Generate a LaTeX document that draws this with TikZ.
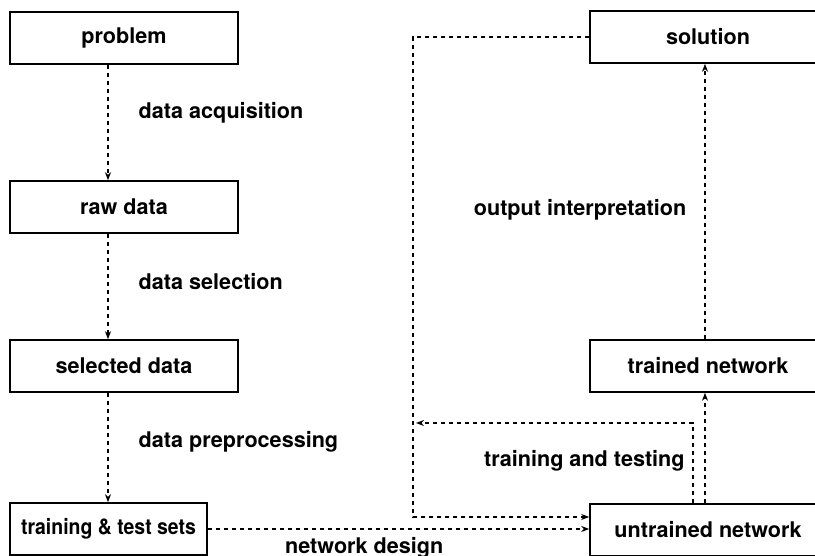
\documentclass[tikz,border=0pt]{standalone}
\usepackage{fontspec}
\setmainfont{TeX Gyre Heros}
\usetikzlibrary{arrows.meta}
\begin{document}
\begin{tikzpicture}[x=0.5pt,y=0.5pt,
	stage/.style={draw,line width=0.8pt,minimum height=26pt,inner sep=0pt,
		font=\fontsize{10.8}{13}\selectfont\bfseries},
	flow/.style={line width=0.7pt,dash pattern=on 2pt off 2pt,
		-{Stealth[length=4pt,width=3pt]}},
	lbl/.style={font=\fontsize{10.8}{13}\selectfont\bfseries,inner sep=0pt}]
	\useasboundingbox (0,0) rectangle (815,556);
	%\draw[lightgray] (0,0) grid[step=50] (815,556);
	\coordinate (ax) at (108,0);
	\coordinate (lx) at (413,0);
	\coordinate (tx) at (693,0);
	\coordinate (rx) at (705,0);
	% preparation steps
	\node[stage,minimum width=114pt] (problem) at (124,518) {problem};
	\node[stage,minimum width=114pt] (raw) at (124,349) {raw data};
	\node[stage,minimum width=114pt] (selected) at (124,190) {selected data};
	\node[stage,minimum width=98.5pt] (sets) at (108.5,27)
		{\addfontfeature{FakeStretch=0.9}training \& test sets};
	% network steps
	\node[stage,minimum width=118pt] (solution) at (708,519) {solution};
	\node[stage,minimum width=118pt] (trained) at (708,190) {trained network};
	\node[stage,minimum width=118pt] (untrained) at (708,26) {untrained network};
	\coordinate (uin) at ([yshift=6.5pt]untrained.west);

	\draw[flow] (problem.south -| ax) -- (raw.north -| ax)
		node[lbl,pos=0.42,right=15pt]{data acquisition};
	\draw[flow] (raw.south -| ax) -- (selected.north -| ax)
		node[lbl,pos=0.45,right=15pt]{data selection};
	\draw[flow] (selected.south -| ax) -- (sets.north -| ax)
		node[lbl,pos=0.45,right=15pt]{data preprocessing};
	\draw[flow] (sets.east) -- (sets.east -| untrained.west)
		node[lbl,pos=0.41,below=4pt]{network design};

	\draw[flow] (solution.west) -- (solution.west -| lx) -- (lx |- uin) -- (uin);
	\draw[flow] (untrained.north -| tx) |- ([xshift=1.5pt]lx |- 0,133);
	\node[lbl,anchor=east] (tt) at (685,95) {training and testing};
	\draw[flow] (untrained.north -| rx) -- (trained.south -| rx);
	\draw[flow] (trained.north -| rx) -- (solution.south -| rx)
		node[lbl,pos=0.47,left=9pt]{output interpretation};
\end{tikzpicture}
\end{document}
